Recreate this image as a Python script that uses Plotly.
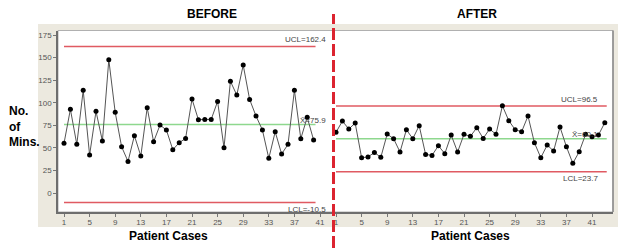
import plotly.graph_objects as go

# ---- data ----
before_cases = list(range(1, 41))
before_mins = [55, 92.7, 53.9, 113.7, 42.1, 90.5, 57.6, 147.6, 89.4, 51.3,
               35, 63.5, 41, 94.5, 56.8, 75.3, 69.8, 48, 55.7, 60.5,
               104.1, 81.2, 81.5, 81.5, 101.5, 50.2, 123.7, 108.5, 141.7, 103.7,
               85.3, 69.8, 38.4, 67.9, 43.2, 53.9, 113.7, 60.2, 83.8, 58.7]
after_cases = list(range(1, 44))
after_mins = [67.2, 79.7, 70.9, 77.5, 39.1, 39.9, 45, 39.5, 65.3, 60.2,
              45.4, 70.1, 60.2, 74.6, 42.8, 41.7, 52.4, 43.6, 64.2, 45.4,
              65, 62.8, 72.3, 60.5, 70.9, 65, 96.7, 80.1, 70.1, 67.9,
              85.3, 55.7, 39.1, 53.2, 46.5, 73.1, 51.3, 32.9, 45.7, 65,
              62.3, 64.2, 77.9]
before_limits = {"UCL": 162.4, "mean": 75.9, "LCL": -10.5}
after_limits = {"UCL": 96.5, "mean": 60.1, "LCL": 23.7}
x_ticks = [1, 5, 9, 13, 17, 21, 25, 29, 33, 37, 41]
y_ticks = [0, 25, 50, 75, 100, 125, 150, 175]

W, H = 620, 248
def PX(p): return p / W
def PY(p): return 1 - p / H

RED = "#E05A62"
GREEN = "#8ED88E"
LINEC = "#555555"
BEIGE = "#ECE9DF"
FONT = "Liberation Sans, Arial, sans-serif"

fig = go.Figure()
fig.add_trace(go.Scatter(x=before_cases, y=before_mins, mode="lines+markers",
                         line=dict(color=LINEC, width=1),
                         marker=dict(color="black", size=5),
                         xaxis="x", yaxis="y", showlegend=False))
fig.add_trace(go.Scatter(x=after_cases, y=after_mins, mode="lines+markers",
                         line=dict(color=LINEC, width=1),
                         marker=dict(color="black", size=5),
                         xaxis="x2", yaxis="y2", showlegend=False))

shapes = []
annotations = []
# beige background panel
shapes.append(dict(type="rect", xref="paper", yref="paper", layer="below",
                   x0=PX(38), x1=PX(618), y0=PY(227), y1=PY(24),
                   fillcolor=BEIGE, line=dict(width=0)))
# white plot backgrounds
shapes.append(dict(type="rect", xref="paper", yref="paper", layer="below",
                   x0=PX(58), x1=PX(613), y0=PY(212), y1=PY(30.5),
                   fillcolor="white", line=dict(color="#B0B0B0", width=1)))

for xr, yr, n, lim in [("x", "y", len(before_cases), before_limits),
                       ("x2", "y2", len(after_cases), after_limits)]:
    for key, col in [("UCL", RED), ("mean", GREEN), ("LCL", RED)]:
        shapes.append(dict(type="line", xref=xr, yref=yr, x0=1, x1=n + 0.3,
                           y0=lim[key], y1=lim[key], line=dict(color=col, width=1.5),
                           layer="below"))
    txt_x = 42.2
    annotations.append(dict(xref=xr, yref=yr, x=txt_x, y=lim["UCL"], xanchor="right",
                            yanchor="bottom", text="UCL=%g" % lim["UCL"], showarrow=False,
                            font=dict(size=8, color="#444", family=FONT)))
    annotations.append(dict(xref=xr, yref=yr, x=txt_x, y=lim["mean"], xanchor="right",
                            yanchor="bottom", yshift=-2, text="X\u0304=%g" % lim["mean"], showarrow=False,
                            font=dict(size=8, color="#444", family=FONT)))
    annotations.append(dict(xref=xr, yref=yr, x=txt_x, y=lim["LCL"], xanchor="right",
                            yanchor="top", text="LCL=%g" % lim["LCL"], showarrow=False,
                            font=dict(size=8, color="#444", family=FONT)))

# right border of right panel
shapes.append(dict(type="line", xref="paper", yref="paper", x0=PX(613), x1=PX(613),
                   y0=PY(212), y1=PY(30.5), line=dict(color="#8A8A8A", width=1.5)))
# dashed separator
shapes.append(dict(type="line", xref="paper", yref="paper", x0=PX(333.5), x1=PX(333.5),
                   y0=PY(248), y1=PY(14), line=dict(color="#DC2430", width=3, dash="12px,4px")))

bold = dict(family=FONT, size=12, color="black")
annotations += [
    dict(xref="paper", yref="paper", x=PX(212), y=PY(14), text="<b>BEFORE</b>",
         showarrow=False, xanchor="center", yanchor="middle", font=bold),
    dict(xref="paper", yref="paper", x=PX(477), y=PY(14), text="<b>AFTER</b>",
         showarrow=False, xanchor="center", yanchor="middle", font=bold),
    dict(xref="paper", yref="paper", x=PX(7), y=PY(126), text="<b>No.<br>of<br>Mins.</b>",
         showarrow=False, xanchor="left", yanchor="middle", align="left", font=bold),
    dict(xref="paper", yref="paper", x=PX(168), y=PY(236), text="<b>Patient Cases</b>",
         showarrow=False, xanchor="center", yanchor="middle", font=bold),
    dict(xref="paper", yref="paper", x=PX(470), y=PY(236), text="<b>Patient Cases</b>",
         showarrow=False, xanchor="center", yanchor="middle", font=bold),
]

xcommon = dict(tickmode="array", tickvals=x_ticks, ticks="outside", ticklen=3,
               tickcolor="#777", tickfont=dict(size=8, color="#555", family=FONT),
               ticklabelstandoff=-2,
               showgrid=False, zeroline=False, showline=True, linecolor="#6E6E6E",
               linewidth=2, fixedrange=True)
ycommon = dict(range=[-21, 180], showgrid=False, zeroline=False, fixedrange=True)

fig.update_layout(
    width=W, height=H, margin=dict(l=0, r=0, t=0, b=0),
    paper_bgcolor="white", plot_bgcolor="rgba(0,0,0,0)",
    xaxis=dict(domain=[PX(58), PX(333)], range=[0.0625, 43.03], anchor="y", **xcommon),
    xaxis2=dict(domain=[PX(334), PX(613)], range=[0.6875, 44.28], anchor="y2", **xcommon),
    yaxis=dict(domain=[PY(212), PY(30.5)], anchor="x", tickmode="array", tickvals=y_ticks,
               ticks="outside", ticklen=3, tickcolor="#777",
               tickfont=dict(size=8, color="#555", family=FONT),
               showline=True, linecolor="#6E6E6E", linewidth=1.5, **ycommon),
    yaxis2=dict(domain=[PY(212), PY(30.5)], anchor="x2", showticklabels=False,
                ticks="", showline=False, **ycommon),
    shapes=shapes, annotations=annotations, showlegend=False,
)

fig.write_html("out.html", config={"displayModeBar": False},
               post_script="document.body.style.margin='0';")
